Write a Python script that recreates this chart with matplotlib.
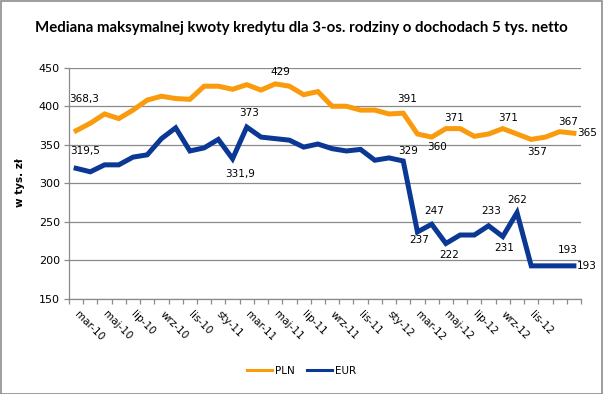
import matplotlib.pyplot as plt
from matplotlib.patches import Rectangle

# mediana maksymalnej kwoty kredytu, w tys. zl, marzec 2010 - luty 2013
pln = [368.3, 378, 390, 384, 395, 408, 413, 410, 409, 426,
       426, 422, 428, 421, 429, 426, 415, 419, 400, 400,
       395, 395, 390, 391, 364, 360, 371, 371, 361, 364,
       371, 364, 357, 360, 367, 365]
eur = [319.5, 315, 324, 324, 334, 337, 358, 372, 342, 346,
       357, 331.9, 373, 360, 358, 356, 347, 351, 345, 342,
       344, 330, 333, 329, 237, 247, 222, 233, 233, 245,
       231, 262, 193, 193, 193, 193]
tick_labels = ['mar-10', 'maj-10', 'lip-10', 'wrz-10', 'lis-10', 'sty-11',
               'mar-11', 'maj-11', 'lip-11', 'wrz-11', 'lis-11', 'sty-12',
               'mar-12', 'maj-12', 'lip-12', 'wrz-12', 'lis-12']

# etykiety danych: (indeks, tekst, dx px, dy px w dol)
pln_labels = [(0, '368,3', 7.5, -32), (14, '429', 5, -12), (23, '391', 4, -14),
              (25, '360', 5, 10), (26, '371', 8, -11), (30, '371', 5, -11),
              (32, '357', 6, 13), (34, '367', 8.5, -10), (35, '365', 13, 0)]
eur_labels = [(0, '319,5', 9, -17), (11, '331,9', 8, 15), (12, '373', 2.5, -14),
              (23, '329', 5, -10), (24, '237', 2, 8), (25, '247', 2.5, -13),
              (26, '222', 3, 12), (29, '233', 3, -15), (30, '231', 1.5, 11),
              (31, '262', 0.5, -13), (34, '193', 8.5, -16), (35, '193', 13, 0)]

c_pln = '#F99B0C'
c_eur = '#0A3894'
szary = '#8a8a8a'

fig = plt.figure(figsize=(6.03, 3.94), dpi=100)
fig.patches.append(Rectangle((0.001, 0.001), 0.997, 0.996, transform=fig.transFigure,
                             fill=False, edgecolor='#8c8c8c', lw=1.2))
ax = fig.add_axes([69/603, 1-299/394, 512/603, 231.3/394])

x = list(range(len(pln)))
ax.plot(x, pln, color=c_pln, lw=3.6, solid_joinstyle='miter', label='PLN')
ax.plot(x, eur, color=c_eur, lw=3.6, solid_joinstyle='miter', label='EUR')

px = 72/100
for dane, etyk in ((pln, pln_labels), (eur, eur_labels)):
    for i, t, dx, dy in etyk:
        ax.annotate(t, (i, dane[i]), xytext=(dx*px, -dy*px), textcoords='offset points',
                    ha='center', va='center', fontsize=7.5, color='black')

ax.set_xlim(-0.5, len(pln)-0.5)
ax.set_ylim(150, 450)
ax.set_yticks(range(150, 451, 50))
ax.grid(axis='y', color=szary, lw=0.9)
ax.set_axisbelow(True)
for s in ['top', 'right']:
    ax.spines[s].set_visible(False)
for s in ['left', 'bottom']:
    ax.spines[s].set_color(szary)
    ax.spines[s].set_linewidth(0.9)

ax.set_xticks(list(range(0, 33, 2)))
ax.set_xticklabels(tick_labels, rotation=-45, ha='left', va='center',
                   rotation_mode='anchor', fontsize=7.5)
ax.set_xticks([i - 0.5 for i in range(len(pln)+1)], minor=True)
ax.tick_params(axis='x', which='major', length=0, pad=10)
ax.tick_params(axis='x', which='minor', length=3.5, color=szary, width=0.9)
ax.tick_params(axis='y', length=3.5, color=szary, width=0.9, labelsize=8, pad=3)

fig.text(20/603, 1-183/394, 'w tys. zł', rotation=90, ha='center', va='center',
         fontsize=7.5, fontweight='bold')
fig.text(0.5, 1-28/394, 'Mediana maksymalnej kwoty kredytu dla 3-os. rodziny o dochodach 5 tys. netto',
         ha='center', va='center', fontsize=10.8, fontweight='bold', family='Lato')

fig.legend(loc='center', bbox_to_anchor=(0.5, 1-371/394), ncol=2, frameon=False,
           fontsize=7.5, handlelength=2.4, columnspacing=1.2, handletextpad=0.3)
for l in fig.legends[0].get_lines():
    l.set_linewidth(2.2)

fig.savefig('out.png', dpi=100)
